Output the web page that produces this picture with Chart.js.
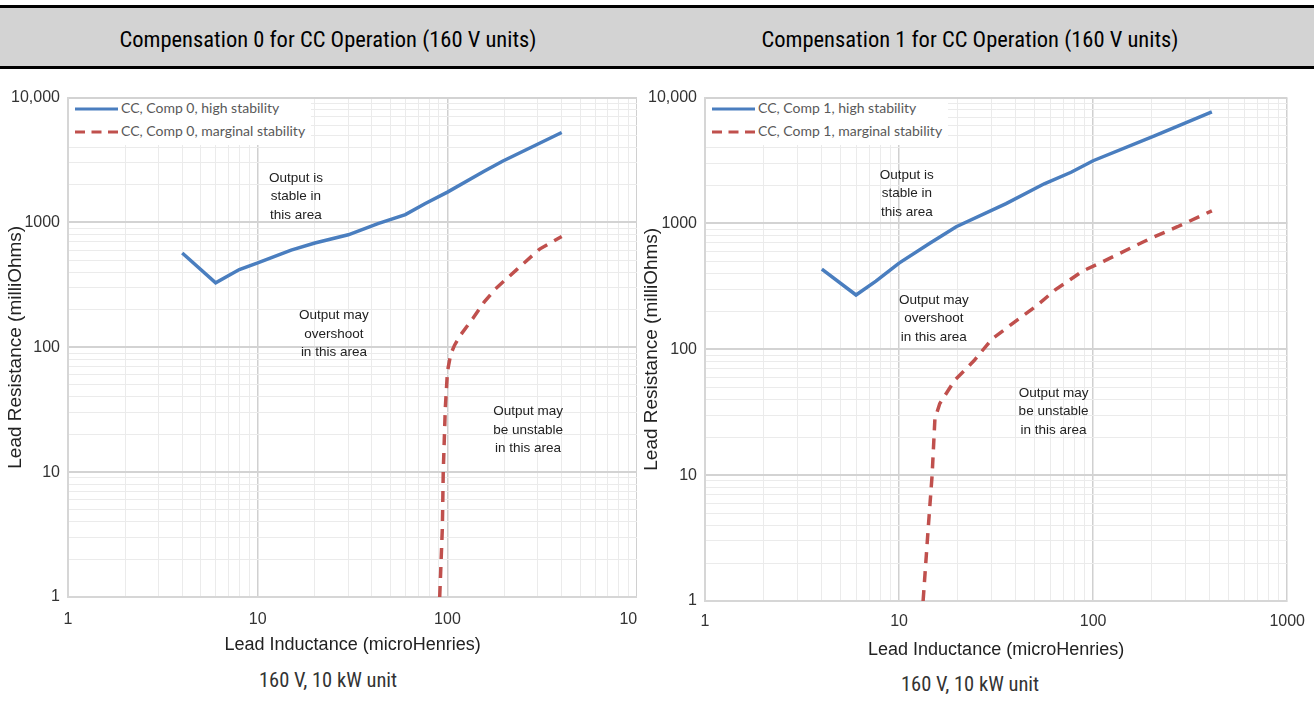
<!DOCTYPE html>
<html>
<head>
<meta charset="utf-8">
<title>Compensation for CC Operation (160 V units)</title>
<script src="https://cdn.jsdelivr.net/npm/chart.js@4.4.1/dist/chart.umd.min.js"></script>
<style>
  html, body { margin: 0; padding: 0; background: #fff; }
  body { width: 1314px; height: 711px; position: relative; overflow: hidden; }
  .bar { position: absolute; left: 0; width: 1314px; }
  .hdr-title {
    position: absolute; top: 8px; height: 58px; line-height: 63px;
    text-align: center; color: #000;
    font-family: "Liberation Sans Narrow", "Roboto Condensed", "Liberation Sans", sans-serif;
    font-size: 22.5px;
  }
  .sub {
    position: absolute; text-align: center; color: #333;
    font-family: "Liberation Sans Narrow", "Roboto Condensed", "Liberation Sans", sans-serif;
    font-size: 20.5px;
  }
  .panel { position: absolute; overflow: hidden; }
  .panel > div { position: relative; }
  .legend {
    position: absolute; background: #fff; padding: 0 6px 0 6px;
    font-family: Lato, "Open Sans", sans-serif; font-size: 14px; color: #595959;
  }
  .legend .row { height: 23px; line-height: 23px; white-space: nowrap; position: relative; top: -3px; }
  .legend .sample { display: inline-block; width: 43px; vertical-align: middle; margin-right: 3px; }
</style>
</head>
<body>
<div class="bar" style="top:5px;height:3px;background:#000"></div>
<div class="bar" style="top:8px;height:58px;background:#d3d3d3"></div>
<div class="bar" style="top:66px;height:3px;background:#000"></div>
<div class="hdr-title" style="left:0;width:656px">Compensation 0 for CC Operation (160 V units)</div>
<div class="hdr-title" style="left:656px;width:628px">Compensation 1 for CC Operation (160 V units)</div>

<div class="panel" id="panel0" style="left:0;top:80px;width:637px;height:590px">
  <div style="width:668px;height:580px"><canvas id="chart0"></canvas></div>
</div>
<div class="panel" id="panel1" style="left:636px;top:80px;width:680px;height:590px">
  <div style="width:680px;height:585px"><canvas id="chart1"></canvas></div>
</div>

<div class="sub" style="left:178px;width:300px;top:668px">160 V, 10 kW unit</div>
<div class="sub" style="left:820px;width:300px;top:672px">160 V, 10 kW unit</div>

<script>
// inductance (uH) vs lead resistance (mOhm)
const comp0HighL = [4, 6, 8, 10, 15, 20, 30, 43, 60, 76, 100, 156, 195, 400];
const comp0HighR = [570, 328, 420, 474, 600, 684, 796, 980, 1156, 1413, 1750, 2570, 3090, 5250];
const comp0MargL = [91, 94, 95, 97.4, 100, 104, 109, 117, 136, 156, 179, 234, 306, 400];
const comp0MargR = [1, 3.6, 10, 32.5, 64, 88, 104, 125, 170, 230, 294, 425, 612, 773];

const comp1HighL = [4, 6, 7.6, 10, 14.4, 19.7, 35.6, 56, 77, 100, 207, 409];
const comp1HighR = [434, 270, 348, 484, 696, 942, 1436, 2066, 2550, 3150, 4960, 7710];
const comp1MargL = [13.3, 14.1, 14.8, 15.3, 16.2, 19.4, 24.3, 30, 39, 51, 64, 88, 113, 198, 272, 409];
const comp1MargR = [1, 3.6, 10, 28, 37, 57, 81, 120, 163, 221, 298, 417, 500, 762, 942, 1260];

// axis ticks
const xDecades = [1, 10, 100, 1000];
const yDecades = [1, 10, 100, 1000, 10000];
const xTickLabels = ['1', '10', '100', '1000'];
const yTickLabels = ['1', '10', '100', '1000', '10,000'];
const gridSteps = [1, 2, 3, 4, 5, 6, 7, 8, 9];

const BLUE = '#4a7ebf';
const RED = '#c0504d';

function pairs(xs, ys) {
    return xs.map(function (x, i) { return { x: x, y: ys[i] }; });
}

function gridValues(decades) {
    const out = [];
    decades.forEach(function (d, i) {
        if (i === decades.length - 1) { out.push(d); return; }
        gridSteps.forEach(function (s) { out.push(d * s); });
    });
    return out;
}

function isDecade(v) {
    const l = Math.log10(v);
    return Math.abs(l - Math.round(l)) < 1e-9;
}

// text notes inside the plot ("Output is stable ..." etc.)
const notesPlugin = {
    id: 'areaNotes',
    afterDatasetsDraw(chart, args, opts) {
        const ctx = chart.ctx;
        const xs = chart.scales.x, ys = chart.scales.y;
        ctx.save();
        ctx.font = '13.5px "Liberation Sans", Arial, sans-serif';
        ctx.fillStyle = '#222';
        ctx.textAlign = 'center';
        ctx.textBaseline = 'middle';
        (opts.notes || []).forEach(function (n) {
            const px = xs.getPixelForValue(n.x);
            const py = ys.getPixelForValue(n.y);
            const h = 18.5;
            n.lines.forEach(function (line, i) {
                ctx.fillText(line, px, py + (i - (n.lines.length - 1) / 2) * h);
            });
        });
        ctx.restore();
    }
};

// legend box placed in the top-left corner of the plot
const boxLegendPlugin = {
    id: 'boxLegend',
    afterRender(chart, args, opts) {
        const holder = chart.canvas.parentNode;
        let box = holder.querySelector('.legend');
        if (!box) {
            box = document.createElement('div');
            box.className = 'legend';
            holder.appendChild(box);
        }
        box.style.left = (chart.chartArea.left + 1) + 'px';
        box.style.top = (chart.chartArea.top + 1) + 'px';
        box.innerHTML = chart.data.datasets.map(function (ds) {
            const dash = ds.borderDash && ds.borderDash.length ? ' stroke-dasharray="10 6.5"' : '';
            const sample = '<svg class="sample" width="43" height="4"><line x1="0" y1="2" x2="43" y2="2" stroke="' +
                ds.borderColor + '" stroke-width="3"' + dash + '/></svg>';
            return '<div class="row">' + sample + ds.label + '</div>';
        }).join('');
    }
};

function makeChart(id, comp, high, marg, notes, yWidth, xHeight, tickPad) {
    const xGrid = gridValues(xDecades);
    const yGrid = gridValues(yDecades);
    return new Chart(document.getElementById(id), {
        type: 'scatter',
        data: {
            datasets: [{
                label: 'CC, Comp ' + comp + ', high stability',
                data: high,
                showLine: true,
                borderColor: BLUE,
                backgroundColor: BLUE,
                borderWidth: 3.5,
                pointRadius: 0,
                tension: 0,
            }, {
                label: 'CC, Comp ' + comp + ', marginal stability',
                data: marg,
                showLine: true,
                borderColor: RED,
                backgroundColor: RED,
                borderWidth: 3.5,
                borderDash: [11, 8],
                pointRadius: 0,
                tension: 0,
            }],
        },
        options: {
            responsive: true,
            maintainAspectRatio: false,
            animation: false,
            events: [],
            layout: { padding: { top: 16, right: 0, left: 0, bottom: 0 } },
            plugins: {
                legend: { display: false },
                tooltip: { enabled: false },
                areaNotes: { notes: notes },
            },
            scales: {
                x: {
                    type: 'logarithmic',
                    min: 1,
                    max: 1000,
                    afterBuildTicks: function (s) { s.ticks = xGrid.map(function (v) { return { value: v }; }); },
                    afterFit: function (s) { s.height = xHeight; },
                    grid: {
                        drawTicks: false,
                        color: function (c) { return c.tick && isDecade(c.tick.value) ? '#d0d0d0' : '#ebebeb'; },
                        lineWidth: function (c) { return c.tick && isDecade(c.tick.value) ? 1.5 : 1; },
                    },
                    border: { color: '#d6d6d6', width: 2 },
                    ticks: {
                        autoSkip: false,
                        maxRotation: 0,
                        padding: tickPad,
                        color: '#333',
                        font: { family: '"Liberation Sans", Arial, sans-serif', size: 16 },
                        callback: function (v) {
                            const i = xDecades.indexOf(v);
                            return i >= 0 ? xTickLabels[i] : '';
                        },
                    },
                    title: {
                        display: true,
                        text: 'Lead Inductance (microHenries)',
                        color: '#222',
                        padding: { top: 0, bottom: 4 },
                        font: { family: '"Liberation Sans", Arial, sans-serif', size: 18 },
                    },
                },
                y: {
                    type: 'logarithmic',
                    min: 1,
                    max: 10000,
                    afterBuildTicks: function (s) { s.ticks = yGrid.map(function (v) { return { value: v }; }); },
                    afterFit: function (s) { s.width = yWidth; },
                    grid: {
                        drawTicks: false,
                        color: function (c) { return c.tick && isDecade(c.tick.value) ? '#d3d3d3' : '#ebebeb'; },
                        lineWidth: function (c) { return c.tick && isDecade(c.tick.value) ? 2 : 1; },
                    },
                    border: { color: '#d6d6d6', width: 2 },
                    ticks: {
                        autoSkip: false,
                        padding: 8,
                        color: '#333',
                        font: { family: '"Liberation Sans", Arial, sans-serif', size: 16 },
                        callback: function (v) {
                            const i = yDecades.indexOf(v);
                            return i >= 0 ? yTickLabels[i] : '';
                        },
                    },
                    title: {
                        display: true,
                        text: 'Lead Resistance (milliOhms)',
                        color: '#222',
                        padding: { top: 4, bottom: 0 },
                        font: { family: '"Liberation Sans", Arial, sans-serif', size: 19 },
                    },
                },
            },
        },
        plugins: [notesPlugin, boxLegendPlugin],
    });
}

makeChart('chart0', 0, pairs(comp0HighL, comp0HighR), pairs(comp0MargL, comp0MargR), [
    { x: 15.9, y: 1607, lines: ['Output is', 'stable in', 'this area'] },
    { x: 25.2, y: 128, lines: ['Output may', 'overshoot', 'in this area'] },
    { x: 266, y: 21.7, lines: ['Output may', 'be unstable', 'in this area'] },
], 68, 63, 13);

makeChart('chart1', 1, pairs(comp1HighL, comp1HighR), pairs(comp1MargL, comp1MargR), [
    { x: 10.96, y: 1722, lines: ['Output is', 'stable in', 'this area'] },
    { x: 15.1, y: 175, lines: ['Output may', 'overshoot', 'in this area'] },
    { x: 62.5, y: 31.9, lines: ['Output may', 'be unstable', 'in this area'] },
], 69, 64, 11);
</script>
</body>
</html>
